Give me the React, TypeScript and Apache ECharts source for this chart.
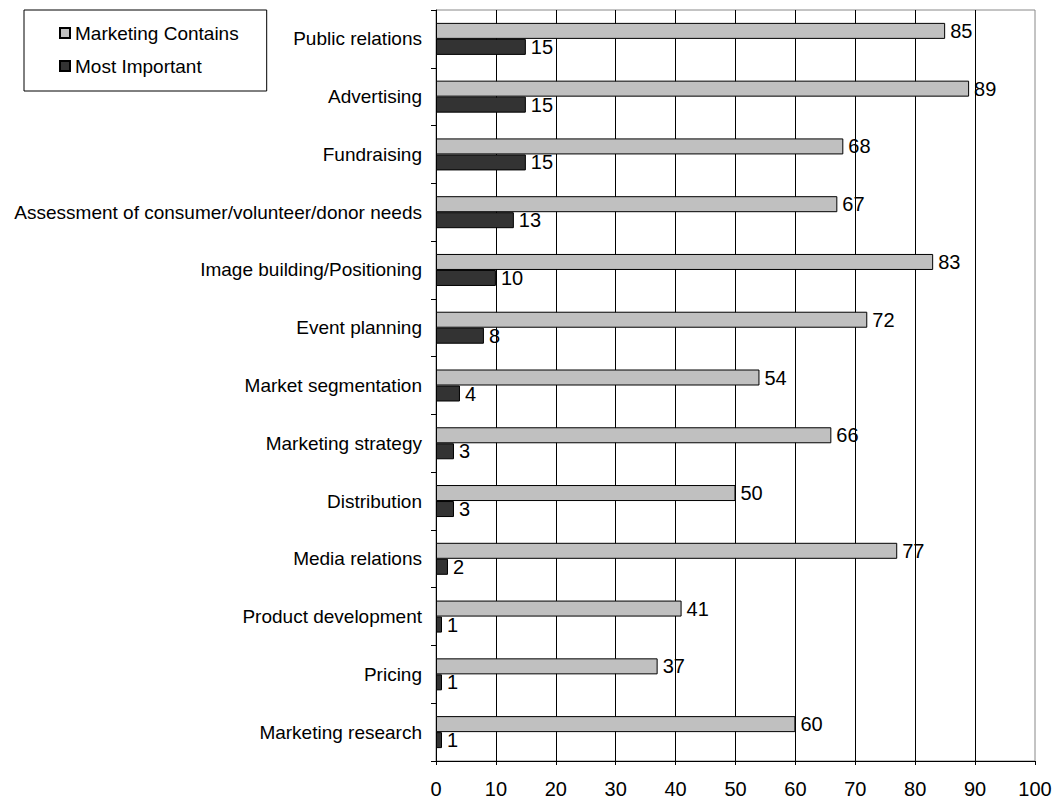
import React, { useEffect, useRef } from "react";
import * as echarts from "echarts";

const categories = [
  "Public relations",
  "Advertising",
  "Fundraising",
  "Assessment of consumer/volunteer/donor needs",
  "Image building/Positioning",
  "Event planning",
  "Market segmentation",
  "Marketing strategy",
  "Distribution",
  "Media relations",
  "Product development",
  "Pricing",
  "Marketing research",
];
const marketingContains = [85, 89, 68, 67, 83, 72, 54, 66, 50, 77, 41, 37, 60];
const mostImportant = [15, 15, 15, 13, 10, 8, 4, 3, 3, 2, 1, 1, 1];
const seriesNames = ["Marketing Contains", "Most Important"];

const FONT = "'Liberation Sans', Arial, sans-serif";

export default function App() {
  const ref = useRef<HTMLDivElement>(null);
  useEffect(() => {
    if (!ref.current) return;
    const chart = echarts.init(ref.current, undefined, { renderer: "svg" });
    const label = {
      show: true,
      position: "right",
      distance: 5,
      color: "#000",
      fontSize: 20,
      fontFamily: FONT,
    };
    chart.setOption({
      animation: false,
      backgroundColor: "#fff",
      textStyle: { fontFamily: FONT },
      grid: {
        left: 436,
        right: 25,
        top: 10,
        bottom: 43,
        show: true,
        borderColor: "#888",
        borderWidth: 1,
        backgroundColor: "transparent",
      },
      legend: {
        orient: "vertical",
        left: 24,
        top: 10,
        borderColor: "#000",
        borderWidth: 1,
        padding: [12, 28, 14, 35],
        itemWidth: 10,
        itemHeight: 10,
        itemGap: 11,
        icon: "rect",
        textStyle: { fontSize: 19, color: "#000", fontFamily: FONT, lineHeight: 22 },
        data: seriesNames,
      },
      xAxis: {
        type: "value",
        min: 0,
        max: 100,
        interval: 10,
        axisLine: { show: true, lineStyle: { color: "#000", width: 1 } },
        axisTick: { show: true, length: 4, lineStyle: { color: "#000" } },
        axisLabel: { fontSize: 20, color: "#000", margin: 18, fontFamily: FONT },
        splitLine: {
          show: true,
          showMinLine: false,
          showMaxLine: false,
          lineStyle: { color: "#000", width: 1 },
        },
      },
      yAxis: {
        type: "category",
        inverse: true,
        data: categories,
        axisLine: { show: true, lineStyle: { color: "#000", width: 1 } },
        axisTick: { show: true, length: 5, lineStyle: { color: "#000" } },
        axisLabel: { fontSize: 19, color: "#000", margin: 14, fontFamily: FONT },
      },
      series: [
        {
          name: seriesNames[0],
          type: "bar",
          data: marketingContains,
          barWidth: 16,
          barGap: "0%",
          itemStyle: { color: "#c0c0c0", borderColor: "#000", borderWidth: 1 },
          label,
        },
        {
          name: seriesNames[1],
          type: "bar",
          data: mostImportant,
          barWidth: 16,
          barGap: "0%",
          itemStyle: { color: "#333333", borderColor: "#000", borderWidth: 1 },
          label,
        },
      ],
    });
    return () => chart.dispose();
  }, []);
  return (
    <div
      ref={ref}
      style={{ position: "absolute", left: 0, top: 0, width: 1060, height: 804 }}
    />
  );
}
